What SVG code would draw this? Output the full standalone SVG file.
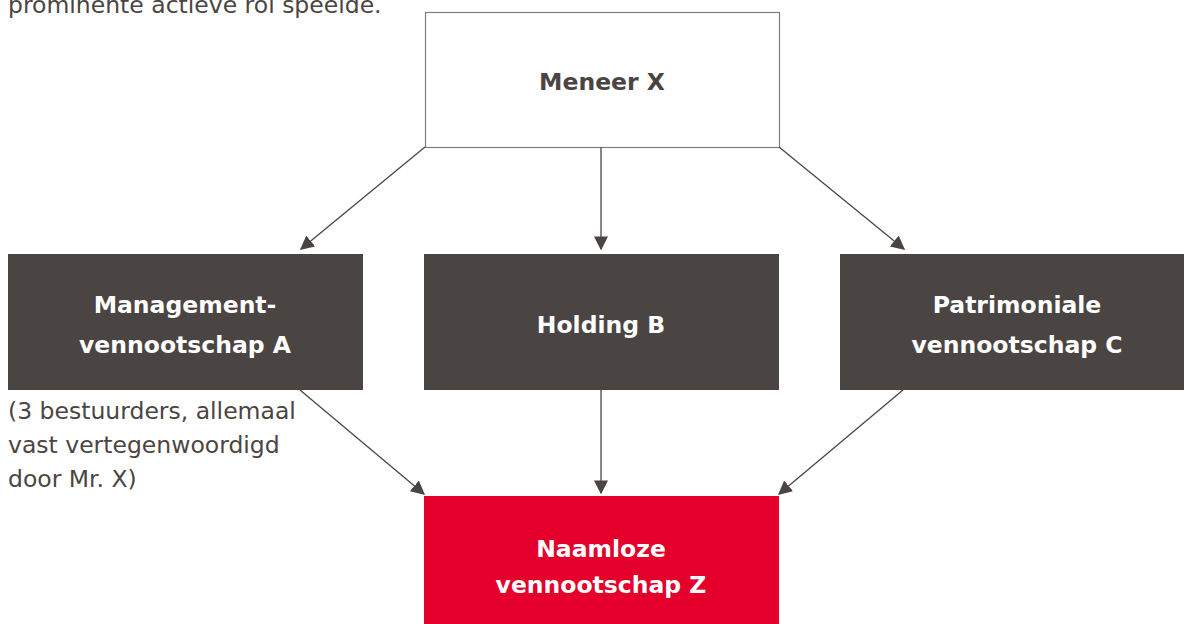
<svg xmlns="http://www.w3.org/2000/svg" width="1184" height="624" viewBox="0 0 1184 624">
<style>
text{font-family:"DejaVu Sans","Liberation Sans",sans-serif;}
.t{font-size:23.5px;fill:#4a4543;}
.b{font-size:23.5px;font-weight:bold;text-anchor:middle;}
.w{fill:#ffffff;}
.d{fill:#4a4543;}
.con line{stroke:#4a4543;stroke-width:1.3;}
</style>
<defs>
<marker id="ah" viewBox="0 0 10 10" refX="9" refY="5" markerWidth="14" markerHeight="14" markerUnits="userSpaceOnUse" orient="auto">
<path d="M0,0 L10,5 L0,10 z" fill="#4a4543"/>
</marker>
</defs>
<text class="t" x="8" y="13">prominente actieve rol speelde.</text>
<g id="meneerX">
<rect x="425.5" y="12.5" width="354" height="135" fill="#ffffff" stroke="#7f7f7f" stroke-width="1.2"/>
<text class="b d" x="602" y="90">Meneer X</text>
</g>
<g id="vennootschapA">
<rect x="8" y="254" width="355" height="136" fill="#4a4543"/>
<text class="b w" x="185" y="313">Management-</text>
<text class="b w" x="185" y="353">vennootschap A</text>
</g>
<g id="holdingB">
<rect x="424" y="254" width="355" height="136" fill="#4a4543"/>
<text class="b w" x="601" y="333">Holding B</text>
</g>
<g id="vennootschapC">
<rect x="840" y="254" width="344" height="136" fill="#4a4543"/>
<text class="b w" x="1017" y="313">Patrimoniale</text>
<text class="b w" x="1017" y="353">vennootschap C</text>
</g>
<g id="vennootschapZ">
<rect x="424" y="496" width="355" height="128" fill="#e4002b"/>
<text class="b w" x="601" y="557">Naamloze</text>
<text class="b w" x="601" y="593">vennootschap Z</text>
</g>
<g id="annotatie">
<text class="t" x="8" y="419">(3 bestuurders, allemaal</text>
<text class="t" x="8" y="453">vast vertegenwoordigd</text>
<text class="t" x="8" y="487">door Mr. X)</text>
</g>
<g class="con" id="connectors">
<line x1="425" y1="147" x2="301" y2="249" marker-end="url(#ah)"/>
<line x1="601" y1="147" x2="601" y2="249" marker-end="url(#ah)"/>
<line x1="779" y1="147" x2="904" y2="249" marker-end="url(#ah)"/>
<line x1="300" y1="390" x2="424" y2="494" marker-end="url(#ah)"/>
<line x1="601" y1="390" x2="601" y2="493" marker-end="url(#ah)"/>
<line x1="903" y1="390" x2="779" y2="494" marker-end="url(#ah)"/>
</g>
</svg>
